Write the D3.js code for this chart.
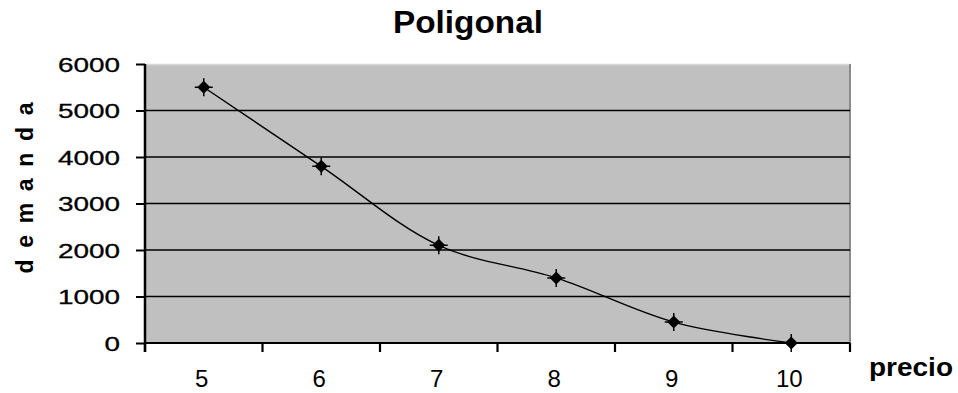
<!DOCTYPE html>
<html>
<head>
<meta charset="utf-8">
<script src="https://cdn.jsdelivr.net/npm/d3@7/dist/d3.min.js"></script>
<style>
  html, body { margin: 0; padding: 0; background: #fff; }
  svg { display: block; }
  text { font-family: "Liberation Sans", Arial, sans-serif; fill: #000; }
</style>
</head>
<body>
<svg id="chart" width="958" height="393"></svg>
<script>
// Demand (demanda) at each price (precio)
const precios = [5, 6, 7, 8, 9, 10];
const demanda = [5500, 3800, 2100, 1400, 450, 0];
const yTicks = [0, 1000, 2000, 3000, 4000, 5000, 6000];

const W = 958, H = 393;
const margin = { left: 145, right: 108, top: 64, bottom: 50 };
const plotW = W - margin.left - margin.right;
const plotH = H - margin.top - margin.bottom;

const svg = d3.select("#chart");
const g = svg.append("g").attr("transform", `translate(${margin.left},${margin.top})`);

const x = d3.scaleBand().domain(precios).range([0, plotW]).padding(0);
const y = d3.scaleLinear().domain([0, 6000]).range([plotH, 0]);

// plot background
g.append("rect")
  .attr("x", 0).attr("y", 0)
  .attr("width", plotW).attr("height", plotH)
  .attr("fill", "#c0c0c0");

// top and right frame
g.append("line").attr("x1", 0).attr("x2", plotW).attr("y1", 0.5).attr("y2", 0.5)
  .attr("stroke", "#d9d9d9").attr("stroke-width", 1.5);
g.append("line").attr("x1", plotW).attr("x2", plotW).attr("y1", 0).attr("y2", plotH)
  .attr("stroke", "#8a8a8a").attr("stroke-width", 2);

// horizontal gridlines
g.selectAll("line.grid")
  .data(yTicks.filter(d => d > 0 && d < 6000))
  .join("line")
  .attr("class", "grid")
  .attr("x1", 0).attr("x2", plotW)
  .attr("y1", d => y(d)).attr("y2", d => y(d))
  .attr("stroke", "#000").attr("stroke-width", 1.6);

// y axis
const yAxis = d3.axisLeft(y).tickValues(yTicks).tickSize(9).tickPadding(16).tickFormat(d3.format("d"));
const yg = g.append("g").call(yAxis);
yg.select(".domain").attr("stroke", "#000").attr("stroke-width", 2.5).attr("d", `M0,0V${plotH + 9}`);
yg.selectAll(".tick line").attr("stroke", "#000").attr("stroke-width", 2);
yg.selectAll(".tick text")
  .attr("font-size", 20)
  .attr("dy", "0.36em")
  .attr("textLength", d => String(d).length * 15.5)
  .attr("lengthAdjust", "spacingAndGlyphs")
  .style("font-family", "'Liberation Sans', Arial, sans-serif")
  .style("stroke", "#000").style("stroke-width", 0.3);

// x axis: ticks on category boundaries, labels at category centers
const xg = g.append("g").attr("transform", `translate(0,${plotH})`);
xg.append("line").attr("x1", 0).attr("x2", plotW).attr("y1", 0).attr("y2", 0)
  .attr("stroke", "#000").attr("stroke-width", 2.2);
const bounds = precios.map(p => x(p)).concat([x(precios[precios.length - 1]) + x.bandwidth()]);
xg.selectAll("line.tk").data(bounds).join("line")
  .attr("class", "tk")
  .attr("x1", d => d).attr("x2", d => d)
  .attr("y1", 0).attr("y2", 9)
  .attr("stroke", "#000").attr("stroke-width", 2.2);
xg.selectAll("text.lbl").data(precios).join("text")
  .attr("class", "lbl")
  .attr("x", d => x(d) + x.bandwidth() / 2 - 2)
  .attr("y", 44)
  .attr("text-anchor", "middle")
  .attr("font-size", 24)
  .text(d => d);

// smoothed demand line
const line = d3.line()
  .x((d, i) => x(precios[i]) + x.bandwidth() / 2)
  .y(d => y(d))
  .curve(d3.curveCatmullRom.alpha(0.5));
g.append("path")
  .datum(demanda)
  .attr("d", line)
  .attr("fill", "none")
  .attr("stroke", "#000")
  .attr("stroke-width", 1.4);

// diamond markers with small spikes
const mk = g.selectAll("g.mk").data(demanda).join("g")
  .attr("class", "mk")
  .attr("transform", (d, i) => `translate(${x(precios[i]) + x.bandwidth() / 2},${y(d)})`);
mk.append("path")
  .attr("d", "M0,-6.5L6.5,0L0,6.5L-6.5,0Z")
  .attr("fill", "#000");
mk.append("path")
  .attr("d", "M-9,0H9M0,-9V9")
  .attr("stroke", "#000").attr("stroke-width", 1.5);

// title
svg.append("text")
  .attr("x", 468).attr("y", 33)
  .attr("text-anchor", "middle")
  .attr("font-size", 31)
  .attr("font-weight", "bold")
  .attr("textLength", 150)
  .attr("lengthAdjust", "spacingAndGlyphs")
  .text("Poligonal");

// axis titles
svg.append("text")
  .attr("transform", "translate(33,188) rotate(-90)")
  .attr("text-anchor", "middle")
  .attr("font-size", 23)
  .attr("font-weight", "bold")
  .attr("textLength", 171)
  .attr("lengthAdjust", "spacing")
  .text("d e m a n d a");

svg.append("text")
  .attr("x", 869).attr("y", 376)
  .attr("font-size", 26)
  .attr("font-weight", "bold")
  .attr("textLength", 84)
  .attr("lengthAdjust", "spacingAndGlyphs")
  .text("precio");
</script>
</body>
</html>
